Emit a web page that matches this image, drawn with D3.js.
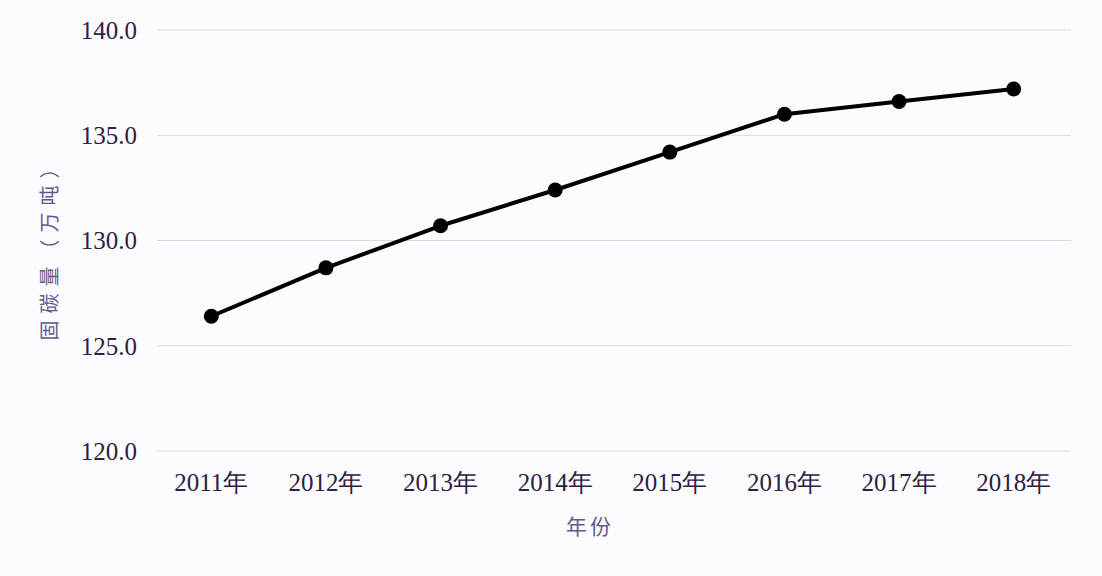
<!DOCTYPE html>
<html><head><meta charset="utf-8">
<script src="https://cdn.jsdelivr.net/npm/d3@7"></script>
<style>html,body{margin:0;padding:0;background:#fcfcfe;}</style>
</head><body>
<svg id="c" width="1102" height="576"></svg>
<script>
const years = ["2011年","2012年","2013年","2014年","2015年","2016年","2017年","2018年"];
const values = [126.4,128.7,130.7,132.4,134.2,136.0,136.6,137.2];
const yTicks = [120,125,130,135,140];
const yTitle = "固碳量（万吨）";
const xTitle = "年份";

const svg = d3.select("#c");
svg.append("rect").attr("width",1102).attr("height",576).attr("fill","#fcfcfe");
const x = d3.scaleBand().domain(years).range([154,1071]);
const y = d3.scaleLinear().domain([120,140]).range([451,30]);

const serif = "'Liberation Serif','DejaVu Serif',serif";
const txtCol = "#2e2040";

// gridlines
svg.append("g").selectAll("line").data(yTicks).join("line")
  .attr("x1",157).attr("x2",1071)
  .attr("y1",d=>y(d)).attr("y2",d=>y(d))
  .attr("stroke","#d3dae5").attr("stroke-width",1.2);

// y axis
const ya = svg.append("g").attr("transform","translate(137,0)")
  .call(d3.axisLeft(y).tickValues(yTicks).tickFormat(d3.format(".1f")).tickSize(0).tickPadding(0));
ya.select(".domain").remove();
ya.selectAll("text").attr("font-family",serif).attr("font-size",25).attr("fill",txtCol).attr("dy","0.33em");

// x axis
const xa = svg.append("g").attr("transform","translate(0,491)")
  .call(d3.axisBottom(x).tickSize(0).tickPadding(0));
xa.select(".domain").remove();
xa.selectAll("text").attr("font-family",serif).attr("font-size",25).attr("fill",txtCol).attr("dy","0");

// titles
svg.append("text").attr("transform","translate(57,246) rotate(-90)")
  .attr("text-anchor","middle").attr("font-family","'Noto Sans CJK SC',sans-serif")
  .attr("font-size",20).attr("letter-spacing",7).attr("fill","#66578a").text(yTitle);
svg.append("text").attr("x",590).attr("y",534).attr("text-anchor","middle")
  .attr("font-family","'Noto Sans CJK SC',sans-serif").attr("font-size",21).attr("letter-spacing",3)
  .attr("fill","#66578a").text(xTitle);

// line
const line = d3.line().x((d,i)=>x(years[i])+x.bandwidth()/2).y(d=>y(d));
svg.append("path").datum(values).attr("d",line).attr("fill","none")
  .attr("stroke","#000").attr("stroke-width",4).attr("stroke-linejoin","round");
svg.append("g").selectAll("circle").data(values).join("circle")
  .attr("cx",(d,i)=>x(years[i])+x.bandwidth()/2).attr("cy",d=>y(d)).attr("r",7.5).attr("fill","#000");
</script>
</body></html>
